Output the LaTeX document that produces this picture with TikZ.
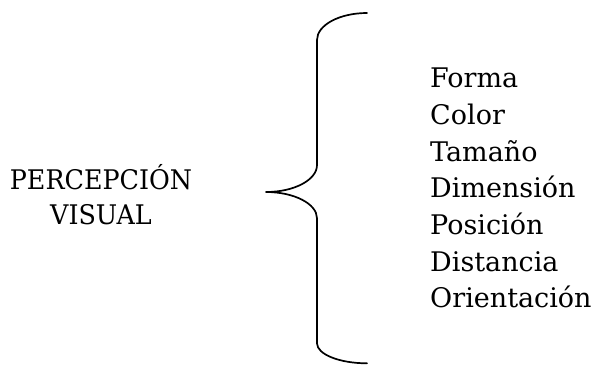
\documentclass[tikz,border=0pt]{standalone}
\usepackage{fontspec}
\setmainfont{DejaVu Serif}
\newfontfamily\capsfont[FakeStretch=0.94]{DejaVu Serif}
\begin{document}
\begin{tikzpicture}[x=1pt,y=-1pt,
  item/.style={anchor=base west, inner sep=0pt, font=\fontsize{27}{36.7}\selectfont},
  titletext/.style={anchor=base, inner sep=0pt, font=\capsfont\fontsize{27}{35}\selectfont},
  brace/.style={line width=1.7pt, line cap=round, line join=round}]
\useasboundingbox (0,0) rectangle (593,367);
% left title
\node[titletext] (t1) at (101,189) {PERCEPCIÓN};
\node[titletext] (t2) at (101,224) {VISUAL};
% list
\node[item] (l1) at (430,87.7) {Forma};
\node[item] (l2) at (430,124.4) {Color};
\node[item] (l3) at (430,161.1) {Tamaño};
\node[item] (l4) at (430,197.8) {Dimensión};
\node[item] (l5) at (430,234.5) {Posición};
\node[item] (l6) at (430,271.2) {Distancia};
\node[item] (l7) at (430,307.9) {Orientación};
% brace
\coordinate (bt) at (367,13);
\coordinate (tip) at (266,192);
\coordinate (bb) at (367,363.3);
\draw[brace] (bt) .. controls (339.4,13) and (317,25.1) .. (317,40)
  -- (317,165) .. controls (317,179.9) and (294.2,192) .. (tip)
  .. controls (294.2,192) and (317,203.8) .. (317,218.3)
  -- (317,343.3) .. controls (317,354.3) and (339.4,363.3) .. (bb);
\end{tikzpicture}
\end{document}
